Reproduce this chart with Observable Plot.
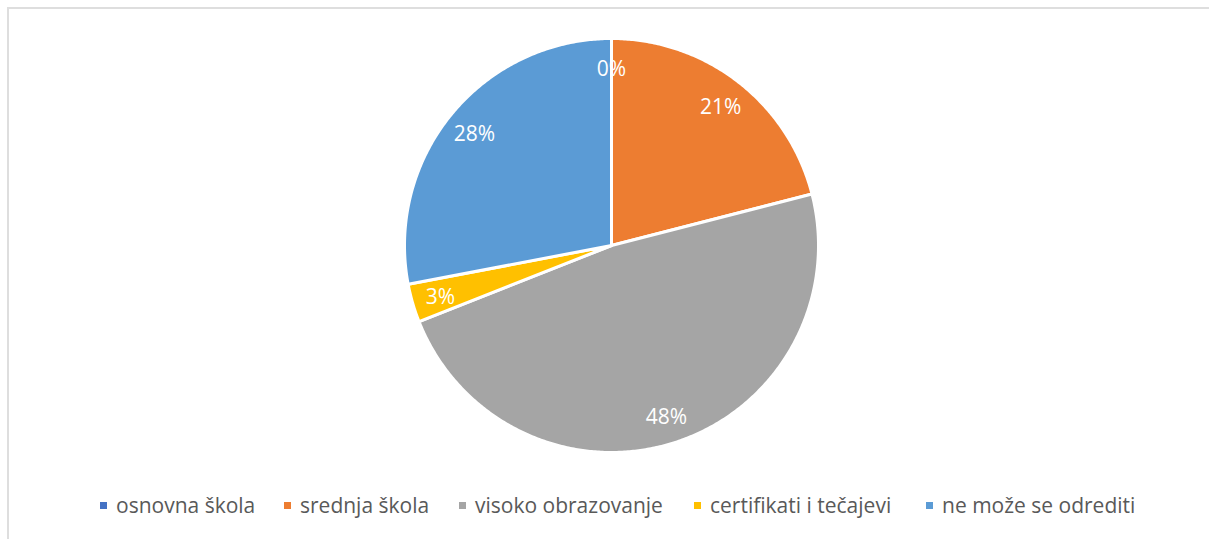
<!DOCTYPE html>
<html>
<head>
<meta charset="utf-8">
<script src="https://cdn.jsdelivr.net/npm/d3@7"></script>
<script src="https://cdn.jsdelivr.net/npm/@observablehq/plot@0.6"></script>
<style>
  html, body { margin: 0; padding: 0; background: #fff; }
  #wrap { position: relative; width: 1209px; height: 539px; overflow: hidden; font-family: "Open Sans", sans-serif; }
  #frame { position: absolute; left: 7px; top: 7px; width: 1300px; height: 700px; border-left: 2px solid #dedede; border-top: 2px solid #dedede; box-sizing: border-box; }
  #chart { position: absolute; left: 0; top: 0; }
  #legend { position: absolute; left: 0; top: 490px; width: 1209px; height: 40px; }
  .item { position: absolute; top: 0; height: 40px; }
  .sw { position: absolute; width: 7px; height: 7px; top: 12px; }
  .lt { position: absolute; top: 1px; left: 16px; white-space: nowrap; font-size: 21px; color: #595959; line-height: 28px; }
</style>
</head>
<body>
<div id="wrap">
  <div id="frame"></div>
  <div id="chart"></div>
  <div id="legend"></div>
</div>
<script>
const categories = ["osnovna škola", "srednja škola", "visoko obrazovanje", "certifikati i tečajevi", "ne može se odrediti"];
const values = [0, 21, 48, 3, 28];
const labels = ["0%", "21%", "48%", "3%", "28%"];
const colors = ["#4472C4", "#ED7D31", "#A5A5A5", "#FFC000", "#5B9BD5"];

const total = d3.sum(values);
const slices = [];
let acc = 0;
values.forEach((v, i) => {
  const a0 = acc / total * 2 * Math.PI;
  acc += v;
  const a1 = acc / total * 2 * Math.PI;
  slices.push({cat: categories[i], a0, a1, label: labels[i]});
});

const pts = [];
for (const s of slices) {
  pts.push({cat: s.cat, x: 0, y: 0});
  const n = Math.max(2, Math.ceil((s.a1 - s.a0) / (Math.PI / 360)));
  for (let k = 0; k <= n; k++) {
    const a = s.a0 + (s.a1 - s.a0) * k / n;
    pts.push({cat: s.cat, x: Math.sin(a), y: Math.cos(a)});
  }
  pts.push({cat: s.cat, x: 0, y: 0});
}

const labelR = 0.86;
const labelData = slices.map(s => {
  const m = (s.a0 + s.a1) / 2;
  return {text: s.label, x: labelR * Math.sin(m), y: labelR * Math.cos(m)};
});

const chart = Plot.plot({
  width: 1209,
  height: 490,
  margin: 0,
  style: {background: "transparent"},
  x: {domain: [-1, 1], range: [404, 818], axis: null},
  y: {domain: [-1, 1], range: [452, 38], axis: null},
  color: {domain: categories, range: colors},
  marks: [
    Plot.line(pts, {x: "x", y: "y", z: "cat", fill: "cat", stroke: "white", strokeWidth: 3, strokeLinejoin: "round", curve: "linear"}),
    Plot.text(labelData, {x: "x", y: "y", dy: 2, text: "text", fill: "white", fontSize: 21, fontFamily: "Open Sans"})
  ]
});
document.getElementById("chart").appendChild(chart);

const legendX = [100, 284, 459, 694, 926];
const legend = document.getElementById("legend");
categories.forEach((c, i) => {
  const it = document.createElement("div");
  it.className = "item";
  it.style.left = legendX[i] + "px";
  const sw = document.createElement("div");
  sw.className = "sw";
  sw.style.background = colors[i];
  const t = document.createElement("div");
  t.className = "lt";
  t.textContent = c;
  it.appendChild(sw);
  it.appendChild(t);
  legend.appendChild(it);
});
</script>
</body>
</html>
